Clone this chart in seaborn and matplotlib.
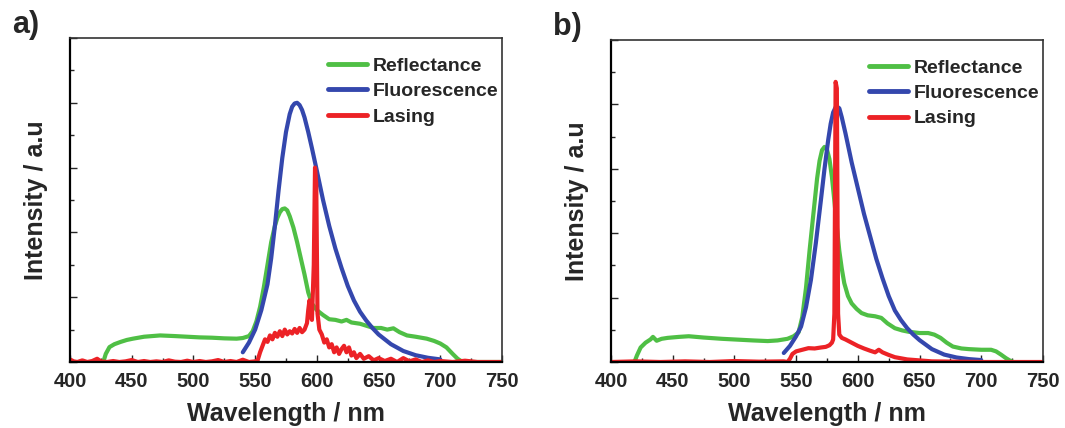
import matplotlib
matplotlib.use("Agg")
import matplotlib.pyplot as plt
import seaborn as sns
from matplotlib.ticker import MultipleLocator, NullFormatter

# ---- panel a data (wavelength nm, intensity a.u.) ----
refl_a_x = [427, 429, 432, 436, 441, 446, 451, 460, 473, 485, 495, 505, 515, 525, 535, 540, 545, 548,
            551, 554, 557, 560, 563, 566, 568, 570, 572, 574, 576, 578, 581, 584, 587, 590, 593, 596,
            600, 605, 610, 615, 620, 624, 628, 635, 640, 646, 652, 657, 662, 667, 673, 680, 689, 695,
            700, 705, 710, 714, 718, 750]
refl_a_y = [0.0, 0.25, 0.46, 0.55, 0.62, 0.68, 0.72, 0.78, 0.82, 0.8, 0.78, 0.76, 0.75, 0.73, 0.72, 0.74,
            0.8, 0.95, 1.25, 1.7, 2.3, 3.0, 3.7, 4.2, 4.45, 4.62, 4.72, 4.74, 4.68, 4.5, 4.15, 3.7, 3.2,
            2.7, 2.15, 1.8, 1.6, 1.45, 1.32, 1.3, 1.25, 1.3, 1.22, 1.18, 1.12, 1.05, 1.05, 1.0, 1.04,
            0.92, 0.82, 0.78, 0.72, 0.65, 0.57, 0.45, 0.25, 0.1, 0.0, 0.0]

fluo_a_x = [540, 545, 550, 555, 560, 563, 566, 569, 572, 575, 578, 580, 582, 584, 586, 588, 590, 593,
            596, 600, 605, 610, 615, 620, 625, 630, 635, 640, 645, 650, 660, 670, 680, 690, 700]
fluo_a_y = [0.3, 0.6, 1.0, 1.6, 2.4, 3.2, 4.2, 5.3, 6.3, 7.1, 7.65, 7.88, 7.98, 8.0, 7.93, 7.78, 7.55,
            7.1, 6.6, 5.9, 5.0, 4.2, 3.5, 2.9, 2.35, 1.9, 1.55, 1.28, 1.05, 0.85, 0.55, 0.34, 0.21,
            0.13, 0.08]

las_a_x = [400, 403, 406, 410, 414, 418, 422, 425, 430, 435, 440, 445, 450, 455, 460, 465, 470, 475,
           480, 485, 490, 495, 500, 505, 510, 515, 520, 525, 530, 535, 540, 545, 550, 552, 554, 556,
           558, 560, 562, 564, 566, 568, 570, 572, 574, 576, 578, 580, 582, 584, 586, 588, 590, 592,
           593, 594, 595, 596, 597.5, 598.5, 599.5, 600.5, 602, 604, 606, 608, 610, 612, 614, 616,
           618, 620, 622, 624, 626, 628, 630, 632, 635, 638, 642, 646, 650, 655, 660, 665, 670, 675,
           680, 685, 690, 695, 700, 710, 720, 730, 750]
las_a_y = [0.08, 0.02, 0.0, 0.05, 0.0, 0.03, 0.1, 0.02, 0.0, 0.03, 0.0, 0.02, 0.06, 0.0, 0.03, 0.0,
           0.02, 0.0, 0.05, 0.01, 0.0, 0.04, 0.0, 0.03, 0.0, 0.02, 0.06, 0.0, 0.03, 0.0, 0.07, 0.0,
           0.02, 0.05, 0.3, 0.5, 0.7, 0.62, 0.82, 0.7, 0.9, 0.78, 0.95, 0.8, 1.0, 0.85, 0.95, 0.88,
           1.02, 0.9, 1.05, 0.92, 1.0, 1.2, 1.6, 1.9, 1.5, 1.3, 3.0, 6.0, 5.5, 1.5, 1.0, 0.85, 0.6,
           0.7, 0.45, 0.55, 0.3, 0.45, 0.25, 0.4, 0.5, 0.3, 0.45, 0.2, 0.3, 0.12, 0.25, 0.1, 0.18,
           0.05, 0.12, 0.03, 0.1, 0.0, 0.12, 0.02, 0.08, 0.0, 0.05, 0.0, 0.03, 0.0, 0.04, 0.0, 0.0]

# ---- panel b data ----
refl_b_x = [419, 421, 424, 428, 432, 434, 437, 441, 446, 455, 463, 475, 490, 500, 515, 527, 535, 543,
            548, 552, 555, 558, 561, 564, 567, 569, 571, 573, 575, 577, 579, 581, 583, 585, 587, 589,
            592, 595, 599, 603, 608, 614, 619, 624, 630, 636, 641, 650, 657, 662, 667, 672, 677, 684,
            690, 700, 708, 712, 716, 720, 723, 726]
refl_b_y = [0.0, 0.2, 0.45, 0.6, 0.7, 0.78, 0.66, 0.72, 0.75, 0.78, 0.8, 0.76, 0.72, 0.7, 0.67, 0.65,
            0.67, 0.72, 0.8, 0.92, 1.4, 2.3, 3.5, 4.6, 5.7, 6.25, 6.58, 6.68, 6.6, 6.3, 5.75, 5.0, 4.2,
            3.45, 2.9, 2.45, 2.05, 1.82, 1.65, 1.52, 1.45, 1.42, 1.37, 1.2, 1.05, 0.98, 0.94, 0.9, 0.9,
            0.85, 0.75, 0.6, 0.48, 0.42, 0.4, 0.38, 0.38, 0.33, 0.23, 0.12, 0.05, 0.0]

fluo_b_x = [540, 545, 550, 554, 558, 562, 566, 570, 573, 576, 578, 580, 582.5, 585, 587, 590, 595, 600,
            605, 610, 615, 620, 625, 630, 635, 640, 645, 650, 660, 670, 680, 690, 700]
fluo_b_y = [0.28, 0.5, 0.8, 1.1, 1.7, 2.55, 3.7, 5.0, 6.0, 6.9, 7.4, 7.75, 7.95, 7.88, 7.6, 7.1, 6.2,
            5.4, 4.6, 3.9, 3.2, 2.6, 2.05, 1.6, 1.3, 1.05, 0.85, 0.68, 0.4, 0.23, 0.14, 0.09, 0.06]

las_b_x = [400, 420, 440, 460, 480, 500, 520, 540, 543, 545, 547, 550, 555, 560, 565, 570, 574, 577,
           579, 580, 581, 582, 583, 584, 585, 587, 590, 595, 600, 605, 610, 614, 617, 620, 625, 630,
           640, 650, 660, 680, 700, 750]
las_b_y = [0.0, 0.02, 0.0, 0.02, 0.0, 0.03, 0.01, 0.02, 0.0, 0.1, 0.25, 0.33, 0.38, 0.43, 0.42, 0.45,
           0.47, 0.52, 0.6, 0.7, 1.5, 8.7, 8.5, 1.5, 0.85, 0.75, 0.7, 0.6, 0.5, 0.42, 0.35, 0.3, 0.38,
           0.3, 0.22, 0.15, 0.08, 0.05, 0.02, 0.01, 0.0, 0.0]

labels = ["Reflectance", "Fluorescence", "Lasing"]
colors = ["#4fbf45", "#3447ad", "#ec2226"]

sns.set_style("ticks")
plt.rcParams["font.family"] = ["Liberation Sans", "DejaVu Sans"]
plt.rcParams["font.weight"] = "bold"

fig = plt.figure(figsize=(10.65, 4.28), dpi=100)
ax_a = fig.add_axes([0.0657, 0.1542, 0.4057, 0.757])
ax_b = fig.add_axes([0.5737, 0.1542, 0.4056, 0.7523])

panels = [
    (ax_a, "a)", [(refl_a_x, refl_a_y), (fluo_a_x, fluo_a_y), (las_a_x, las_a_y)]),
    (ax_b, "b)", [(refl_b_x, refl_b_y), (fluo_b_x, fluo_b_y), (las_b_x, las_b_y)]),
]

for ax, tag, series in panels:
    for (x, y), lab, c in zip(series, labels, colors):
        sns.lineplot(x=x, y=y, ax=ax, color=c, lw=3, label=lab, sort=False)
    ax.set_xlim(400, 750)
    ax.set_ylim(0, 10)
    ax.xaxis.set_major_locator(MultipleLocator(50))
    ax.xaxis.set_minor_locator(MultipleLocator(25))
    ax.yaxis.set_major_locator(MultipleLocator(2))
    ax.yaxis.set_minor_locator(MultipleLocator(1))
    ax.yaxis.set_major_formatter(NullFormatter())
    ax.tick_params(axis="both", which="major", direction="in", length=5, width=1,
                   labelsize=14.5, pad=7)
    ax.tick_params(axis="both", which="minor", direction="in", length=3, width=1)
    for lbl in ax.get_xticklabels():
        lbl.set_fontweight("bold")
    ax.set_xlabel("Wavelength / nm", fontsize=18, fontweight="bold", labelpad=8)
    ax.set_ylabel("Intensity / a.u", fontsize=18, fontweight="bold", labelpad=9)
    for side in ["left", "bottom"]:
        ax.spines[side].set_linewidth(1.6)
        ax.spines[side].set_color("black")
    for side in ["top", "right"]:
        ax.spines[side].set_linewidth(1.2)
        ax.spines[side].set_color("#333333")
    leg = ax.legend(loc="upper right", bbox_to_anchor=(1.01, 0.965), frameon=False,
                    handlelength=2.0, handletextpad=0.3, labelspacing=0.4, borderaxespad=0,
                    prop={"size": 14, "weight": "bold"})
    for h in leg.get_lines():
        h.set_linewidth(3.5)
    ax.text(-0.135, 1.04, tag, transform=ax.transAxes, fontsize=22, fontweight="bold",
            va="center", ha="left")

fig.savefig("out.png", dpi=100)
